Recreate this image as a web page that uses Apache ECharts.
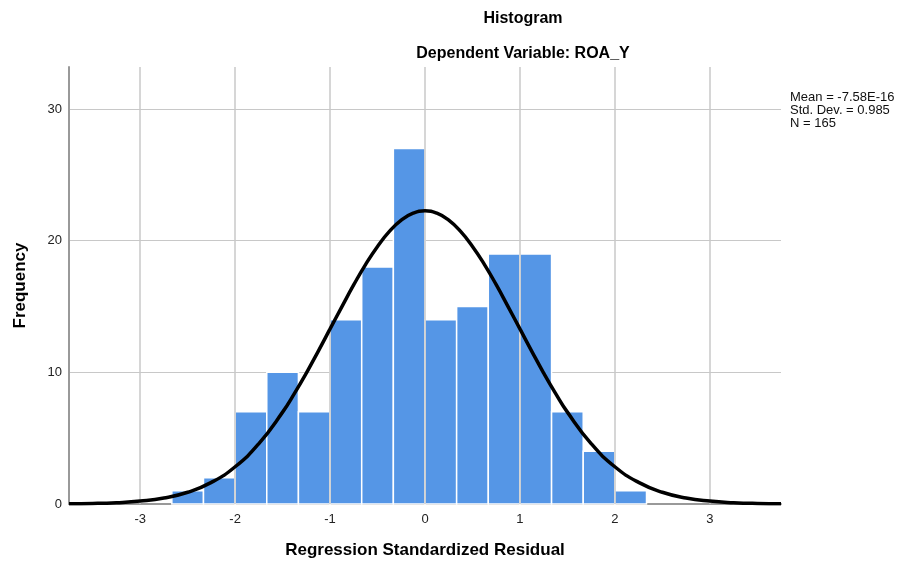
<!DOCTYPE html>
<html>
<head>
<meta charset="utf-8">
<script src="https://cdn.jsdelivr.net/npm/echarts@6/dist/echarts.min.js"></script>
<style>
  html, body { margin: 0; padding: 0; background: #fff; }
  #main { width: 901px; height: 569px; }
</style>
</head>
<body>
<div id="main"></div>
<script>
// histogram bins (lower edge, upper edge) and counts
var binStart = [-2.6667, -2.3333, -2, -1.6667, -1.3333, -1, -0.6667, -0.3333, 0, 0.3333, 0.6667, 1, 1.3333, 1.6667, 2];
var binEnd = [-2.3333, -2, -1.6667, -1.3333, -1, -0.6667, -0.3333, 0, 0.3333, 0.6667, 1, 1.3333, 1.6667, 2, 2.3333];
var counts = [1, 2, 7, 10, 7, 14, 18, 27, 14, 15, 19, 19, 7, 4, 1];

// normal curve
var curveX = [-3.75, -3.5, -3.25, -3, -2.75, -2.5, -2.25, -2, -1.75, -1.5, -1.375, -1.25, -1.125, -1, -0.875, -0.75,
  -0.625, -0.5, -0.375, -0.25, -0.125, 0, 0.125, 0.25, 0.375, 0.5, 0.625, 0.75, 0.875, 1, 1.125, 1.25, 1.375, 1.5,
  1.75, 2, 2.25, 2.5, 2.75, 3, 3.25, 3.5, 3.75];
var curveY = [0.02, 0.04, 0.1, 0.22, 0.45, 0.89, 1.64, 2.83, 4.59, 6.98, 8.41, 9.95, 11.6, 13.3, 15.0, 16.66,
  18.21, 19.57, 20.71, 21.56, 22.09, 22.27, 22.09, 21.56, 20.71, 19.57, 18.21, 16.66, 15.0, 13.3, 11.6, 9.95, 8.41, 6.98,
  4.59, 2.83, 1.64, 0.89, 0.45, 0.22, 0.1, 0.04, 0.02];

var xTicks = [-3, -2, -1, 0, 1, 2, 3];
var statsLines = ['Mean = -7.58E-16', 'Std. Dev. = 0.985', 'N = 165'];

var font = '"Liberation Sans", Arial, sans-serif';

var barData = [];
for (var i = 0; i < counts.length; i++) {
    barData.push([binStart[i], binEnd[i], counts[i]]);
}
var curveData = [];
for (var j = 0; j < curveX.length; j++) {
    curveData.push([curveX[j], curveY[j]]);
}

var chart = echarts.init(document.getElementById('main'), null, { renderer: 'canvas' });
window.addEventListener('resize', chart.resize);

var option = {
    backgroundColor: '#fff',
    animation: false,
    title: [{
        text: 'Histogram',
        left: 518,
        top: 6,
        textAlign: 'center',
        textStyle: { fontFamily: font, fontSize: 16, fontWeight: 'bold', color: '#000' }
    }, {
        text: 'Dependent Variable: ROA_Y',
        left: 518,
        top: 41,
        textAlign: 'center',
        textStyle: { fontFamily: font, fontSize: 16, fontWeight: 'bold', color: '#000' }
    }],
    graphic: [{
        type: 'text',
        left: 790,
        top: 91,
        style: {
            text: statsLines.join('\n'),
            font: '13px ' + font,
            lineHeight: 13,
            fill: '#111'
        }
    }],
    grid: {
        left: 69,
        right: 120,
        top: 67,
        bottom: 65
    },
    xAxis: {
        type: 'value',
        min: -3.75,
        max: 3.75,
        name: 'Regression Standardized Residual',
        nameLocation: 'middle',
        nameGap: 38,
        nameTextStyle: { fontFamily: font, fontSize: 17, fontWeight: 'bold', color: '#000' },
        axisLine: { show: true, onZero: false, lineStyle: { color: '#999', width: 2 } },
        axisTick: { show: false, customValues: xTicks },
        axisLabel: {
            customValues: xTicks,
            margin: 9,
            fontFamily: font,
            fontSize: 13,
            color: '#222'
        },
        splitLine: { show: false }
    },
    yAxis: {
        type: 'value',
        min: 0,
        max: 33.2,
        interval: 10,
        name: 'Frequency',
        nameLocation: 'middle',
        nameGap: 40,
        nameTextStyle: { fontFamily: font, fontSize: 17, fontWeight: 'bold', color: '#000' },
        axisLine: { show: true, onZero: false, lineStyle: { color: '#999', width: 2 } },
        axisTick: { show: false },
        axisLabel: {
            margin: 7,
            fontFamily: font,
            fontSize: 13,
            color: '#222',
            padding: [6, 0, 0, 0],
            showMaxLabel: false
        },
        splitLine: {
            show: true,
            showMinLine: false,
            showMaxLine: false,
            lineStyle: { color: '#c8c8c8', width: 1 }
        }
    },
    series: [{
        // vertical grid lines at the labelled ticks
        type: 'line',
        data: [],
        silent: true,
        markLine: {
            symbol: 'none',
            silent: true,
            label: { show: false },
            lineStyle: { color: '#c8c8c8', width: 1.5, type: 'solid' },
            data: xTicks.map(function (v) { return { xAxis: v }; })
        }
    }, {
        type: 'custom',
        data: barData,
        renderItem: function (params, api) {
            var p0 = api.coord([api.value(0), api.value(2)]);
            var p1 = api.coord([api.value(1), 0]);
            return {
                type: 'rect',
                shape: { x: p0[0], y: p0[1], width: p1[0] - p0[0], height: p1[1] - p0[1] },
                style: { fill: '#5596e6', stroke: '#fff', lineWidth: 1.5 }
            };
        },
        encode: { x: [0, 1], y: 2 },
        z: 3
    }, {
        type: 'line',
        data: curveData,
        smooth: true,
        symbol: 'none',
        lineStyle: { color: '#000', width: 3.5 },
        z: 5
    }]
};
chart.setOption(option);
</script>
</body>
</html>
